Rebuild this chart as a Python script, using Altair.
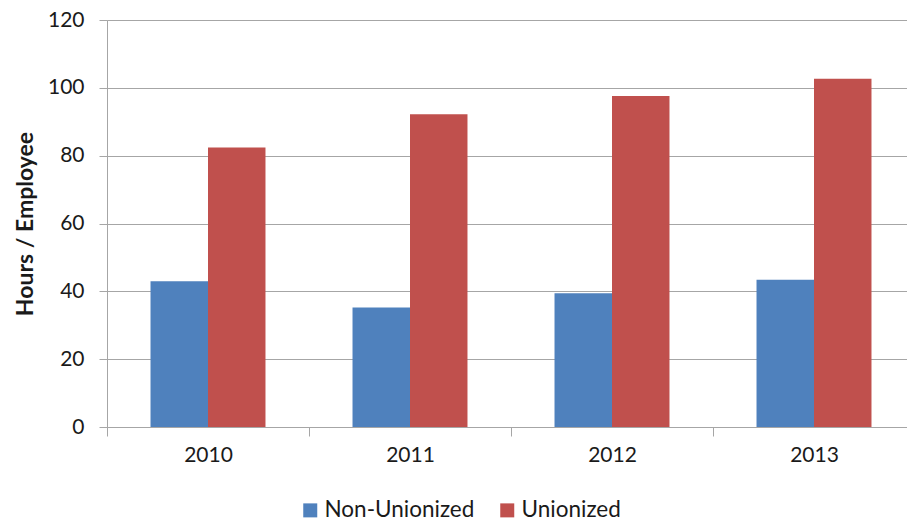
import altair as alt
import pandas as pd

# Training hours per employee, by year and workforce group
years = ["2010", "2011", "2012", "2013"]
groups = ["Non-Unionized", "Unionized"]
non_unionized = [43.0, 35.2, 39.4, 43.4]
unionized = [82.4, 92.2, 97.6, 102.7]
colors = ["#4F81BD", "#C0504D"]
y_ticks = [0, 20, 40, 60, 80, 100, 120]

rows = []
for i, yr in enumerate(years):
    rows.append({"year": yr, "group": groups[0], "hours": non_unionized[i]})
    rows.append({"year": yr, "group": groups[1], "hours": unionized[i]})
df = pd.DataFrame(rows)

FONT = "Lato"
GRID = "#A6A6A6"
TEXT = "#1a1a1a"

chart = (
    alt.Chart(df)
    .mark_bar()
    .encode(
        x=alt.X(
            "year:N",
            sort=years,
            scale=alt.Scale(paddingInner=0, paddingOuter=0, range=[0, 808]),
            axis=alt.Axis(
                title=None,
                labelAngle=0,
                tickBand="extent",
                grid=False,
                domainColor=GRID,
                tickColor=GRID,
                tickSize=9,
                labelPadding=8,
                labelFontSize=21,
                labelColor=TEXT,
                labelFont=FONT,
            ),
        ),
        xOffset=alt.XOffset(
            "group:N",
            sort=groups,
            scale=alt.Scale(paddingInner=0, paddingOuter=0.757),
        ),
        y=alt.Y(
            "hours:Q",
            scale=alt.Scale(domain=[0, 120]),
            axis=alt.Axis(
                values=y_ticks,
                title="Hours / Employee",
                titleFont=FONT,
                titleFontSize=23,
                titleFontWeight="bold",
                titleColor=TEXT,
                titleAngle=270,
                titleAlign="center",
                titleBaseline="middle",
                titleX=-82,
                titleY=203.5,
                grid=True,
                gridColor=GRID,
                gridWidth=1,
                domainColor=GRID,
                tickColor=GRID,
                tickSize=8,
                labelPadding=15,
                labelFontSize=21,
                labelColor=TEXT,
                labelFont=FONT,
            ),
        ),
        color=alt.Color(
            "group:N",
            sort=groups,
            scale=alt.Scale(domain=groups, range=colors),
            legend=alt.Legend(
                title=None,
                orient="none",
                legendX=192,
                legendY=479,
                direction="horizontal",
                symbolType="square",
                symbolSize=196,
                symbolStrokeWidth=0,
                labelFontSize=22.5,
                labelFont=FONT,
                labelColor=TEXT,
                labelOffset=3,
                columnPadding=21,
                padding=0,
            ),
        ),
    )
    .properties(
        width=800,
        height=407,
        padding={"left": 107, "top": 20, "right": 0, "bottom": 96},
        autosize=alt.AutoSizeParams(type="none"),
    )
    .configure_view(stroke=None)
    .configure(font=FONT, background="white")
)

chart.save("out.html", embed_options={"renderer": "svg", "actions": False})
